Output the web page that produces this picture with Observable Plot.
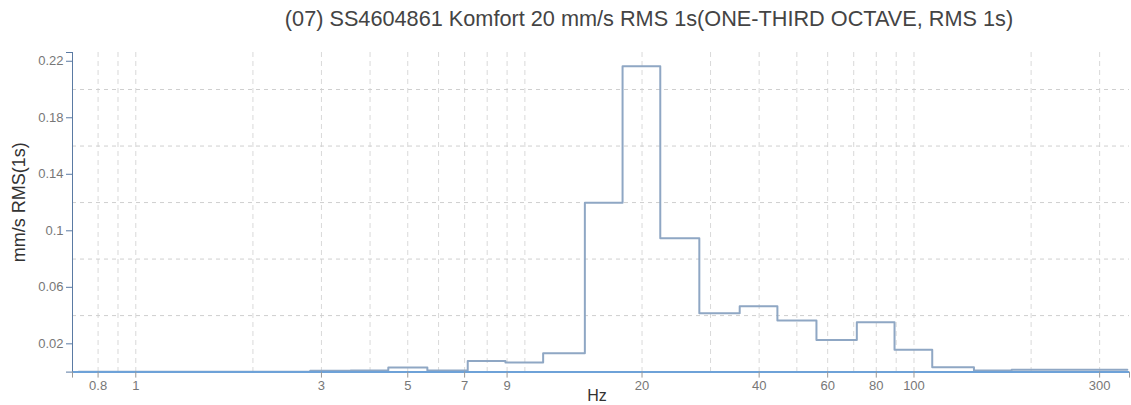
<!DOCTYPE html>
<html>
<head>
<meta charset="utf-8">
<script src="https://cdn.jsdelivr.net/npm/d3@7"></script>
<script src="https://cdn.jsdelivr.net/npm/@observablehq/plot@0.6"></script>
<style>
  html, body { margin: 0; padding: 0; background: #fff; }
  body { width: 1131px; height: 405px; overflow: hidden; font-family: "Liberation Sans", Arial, sans-serif; }
  #title { height: 38px; line-height: 38px; padding-left: 167px; width: 964px; text-align: center;
           font-size: 21.7px; color: #444; white-space: nowrap; margin-bottom: 2px; }
  #chart svg { display: block; }
</style>
</head>
<body>
<div id="title"></div>
<div id="chart"></div>
<script>
// One-third octave band centre frequencies (Hz)
const bands = [0.8, 1, 1.25, 1.6, 2, 2.5, 3.15, 4, 5, 6.3, 8, 10, 12.5, 16, 20, 25, 31.5, 40, 50, 63, 80, 100, 125, 160, 200, 250, 315];
// RMS velocity (mm/s) per band
const values = [0.0003, 0.0003, 0.0003, 0.0003, 0.0003, 0.0003, 0.0010, 0.0012, 0.0033, 0.0012, 0.0078, 0.0068, 0.0134, 0.1198, 0.2165, 0.0948, 0.0417, 0.0466, 0.0365, 0.0228, 0.0353, 0.0158, 0.0035, 0.0011, 0.0016, 0.0016, 0.0016];
// Axis tick labels
const xTicks = [0.8, 1, 3, 5, 7, 9, 20, 40, 60, 80, 100, 300];
const xGrid = [0.8, 0.9, 1, 2, 3, 4, 5, 6, 7, 8, 9, 10, 20, 30, 40, 50, 60, 70, 80, 90, 100, 200, 300];
const yTicks = [0.02, 0.06, 0.1, 0.14, 0.18, 0.22];
const yGrid = [0.04, 0.08, 0.12, 0.16, 0.2];
const titleText = "(07) SS4604861 Komfort 20 mm/s RMS 1s(ONE-THIRD OCTAVE, RMS 1s)";
const xLabel = "Hz";
const yLabel = "mm/s RMS(1s)";

const xDomain = [0.6876, 358];
const yDomain = [0, 0.2262];

// Step outline: each band spans its lower to upper 1/3-octave edge
const half = Math.pow(10, 0.05);
const steps = bands.map((f, i) => ({f: f / half, v: values[i]}));
steps.push({f: bands[bands.length - 1] * half, v: values[values.length - 1]});

const plot = Plot.plot({
  width: 1131,
  height: 365,
  marginLeft: 72,
  marginRight: 2,
  marginTop: 12,
  marginBottom: 33.4,
  style: {fontFamily: "'Liberation Sans', Arial, sans-serif", fontSize: "13px", background: "#fff", color: "#666"},
  x: {type: "log", domain: xDomain},
  y: {type: "linear", domain: yDomain},
  marks: [
    Plot.ruleX(xGrid, {stroke: "#d9d9d9", strokeDasharray: "5,4", strokeWidth: 1}),
    Plot.ruleY(yGrid, {stroke: "#cfcfcf", strokeDasharray: "4,4", strokeWidth: 1}),
    Plot.line(steps, {x: "f", y: "v", curve: "step-after", stroke: "#8fa7c4", strokeWidth: 2}),
    Plot.ruleY([0], {stroke: "#6ea2d8", strokeWidth: 2}),
    Plot.ruleX([xDomain[0]], {stroke: "#5a7aa3", strokeWidth: 1}),
    Plot.axisY([0, ...yTicks, yDomain[1]], {
      tickSize: 6, tickPadding: 3, label: null,
      stroke: "#5a7aa3", fill: "#777",
      tickFormat: d => yTicks.includes(d) ? String(d) : ""
    }),
    Plot.axisX([xDomain[0], ...xTicks, xDomain[1]], {
      ticks: Infinity,
      tickSize: 6, tickPadding: 3, label: null,
      stroke: "#999", fill: "#777",
      tickFormat: () => ""
    }),
    Plot.text(xTicks, {x: d => d, frameAnchor: "bottom", lineAnchor: "top", textAnchor: "middle", dy: 9, text: d => String(d), fill: "#777", fontSize: 13}),
    Plot.text([xLabel], {frameAnchor: "bottom", lineAnchor: "middle", textAnchor: "middle", dy: 23.5, dx: -4, text: d => d, fontSize: 16, fill: "#333"}),
    Plot.text([yLabel], {frameAnchor: "left", textAnchor: "middle", lineAnchor: "middle", dx: -53.5, dy: -10, rotate: -90, text: d => d, fontSize: 18, fill: "#333"})
  ]
});
document.getElementById("chart").appendChild(plot);
document.getElementById("title").textContent = titleText;
</script>
</body>
</html>
